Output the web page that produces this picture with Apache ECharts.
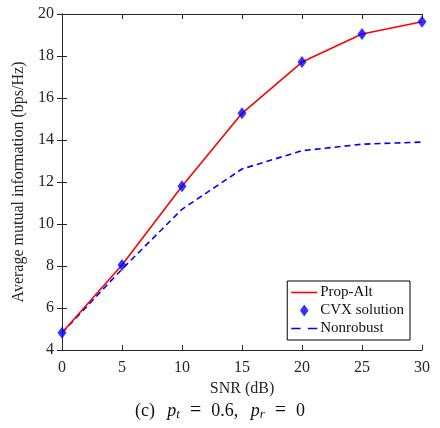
<!DOCTYPE html>
<html>
<head>
<meta charset="utf-8">
<script src="https://cdn.jsdelivr.net/npm/echarts@6/dist/echarts.min.js"></script>
<style>
html, body { margin: 0; padding: 0; background: #fff; }
#chart { width: 440px; height: 428px; }
</style>
</head>
<body>
<div id="chart"></div>
<script>
// SNR sweep (dB)
const snr = [0, 5, 10, 15, 20, 25, 30];
// Average mutual information (bps/Hz) for each scheme
const propAlt = [4.82, 8.05, 11.8, 15.27, 17.71, 19.05, 19.63];
const cvxSolution = [4.82, 8.05, 11.8, 15.27, 17.71, 19.05, 19.63];
const nonrobust = [4.82, 7.85, 10.7, 12.62, 13.49, 13.8, 13.9];
const xTicks = [0, 5, 10, 15, 20, 25, 30];
const yTicks = [4, 6, 8, 10, 12, 14, 16, 18, 20];

const FONT = '"Liberation Serif", "DejaVu Serif", serif';
const AXIS_COLOR = '#262626';

const pairs = (ys) => snr.map((x, i) => [x, ys[i]]);

const baseAxis = {
  axisLine: { show: true, lineStyle: { color: AXIS_COLOR, width: 1 } },
  axisTick: { show: true, inside: true, length: 5, lineStyle: { color: AXIS_COLOR } },
  splitLine: { show: false },
  axisLabel: { color: '#262626', fontFamily: FONT, fontSize: 16 }
};

const chart = echarts.init(document.getElementById('chart'), null, { renderer: 'canvas' });

chart.setOption({
  backgroundColor: '#ffffff',
  animation: false,
  grid: { left: 62, right: 18, top: 14, bottom: 78 },
  title: {
    left: 'center',
    top: 396,
    text: '(c){g| }{i|p}{s|t}{e|=}0.6,{g| }{i|p}{s|r}{e|=}0',
    textStyle: {
      fontFamily: FONT, fontSize: 18, color: '#111', fontWeight: 'normal',
      rich: {
        g: { fontFamily: FONT, fontSize: 18, padding: [0, 4, 0, 4] },
        i: { fontFamily: FONT, fontSize: 18, fontStyle: 'italic', color: '#111' },
        e: { fontFamily: FONT, fontSize: 20, color: '#111', padding: [0, 10, 0, 10] },
        s: { fontFamily: FONT, fontSize: 13, fontStyle: 'italic', color: '#111', verticalAlign: 'bottom', padding: [7, 0, 0, 0] }
      }
    }
  },
  legend: {
    orient: 'vertical',
    right: 30,
    top: 281,
    backgroundColor: '#fff',
    borderColor: '#000',
    borderWidth: 1,
    borderRadius: 0,
    padding: [4, 6, 4, 4],
    itemGap: 3,
    itemWidth: 26,
    itemHeight: 12,
    textStyle: { fontFamily: FONT, fontSize: 15, color: '#111', padding: [0, 0, 0, -2] },
    data: [
      { name: 'Prop-Alt', icon: 'path://M0,0 L26,0 L26,1.6 L0,1.6 Z' },
      { name: 'CVX solution', icon: 'path://M5,0 L10,7 L5,14 L0,7 Z' },
      { name: 'Nonrobust', icon: 'path://M0,0 L9,0 L9,1.6 L0,1.6 Z M16,0 L25,0 L25,1.6 L16,1.6 Z' }
    ]
  },
  xAxis: [
    Object.assign({}, baseAxis, {
      type: 'value', min: 0, max: 30, interval: 5,
      name: 'SNR (dB)', nameLocation: 'middle', nameGap: 30,
      nameTextStyle: { fontFamily: FONT, fontSize: 16, color: '#262626' },
      axisLabel: Object.assign({}, baseAxis.axisLabel, { margin: 10 })
    }),
    Object.assign({}, baseAxis, {
      type: 'value', min: 0, max: 30, interval: 5, position: 'top',
      axisLabel: { show: false }
    })
  ],
  yAxis: [
    Object.assign({}, baseAxis, {
      type: 'value', min: 4, max: 20, interval: 2,
      name: 'Average mutual information (bps/Hz)', nameLocation: 'middle', nameGap: 33,
      nameTextStyle: { fontFamily: FONT, fontSize: 16, color: '#262626' },
      axisLabel: Object.assign({}, baseAxis.axisLabel, { margin: 8 })
    }),
    Object.assign({}, baseAxis, {
      type: 'value', min: 4, max: 20, interval: 2, position: 'right',
      axisLabel: { show: false }
    })
  ],
  series: [
    {
      name: 'Prop-Alt', type: 'line', data: pairs(propAlt),
      symbol: 'none', z: 2,
      lineStyle: { color: '#ff0000', width: 1.6 },
      itemStyle: { color: '#ff0000' }
    },
    {
      name: 'CVX solution', type: 'scatter', data: pairs(cvxSolution),
      symbol: 'diamond', symbolSize: [9, 12], z: 3,
      itemStyle: { color: '#0000ff' }
    },
    {
      name: 'Nonrobust', type: 'line', data: pairs(nonrobust),
      symbol: 'none', z: 1,
      lineStyle: { color: '#0000ff', width: 1.6, type: [6, 4] },
      itemStyle: { color: '#0000ff' }
    }
  ]
});
</script>
</body>
</html>
